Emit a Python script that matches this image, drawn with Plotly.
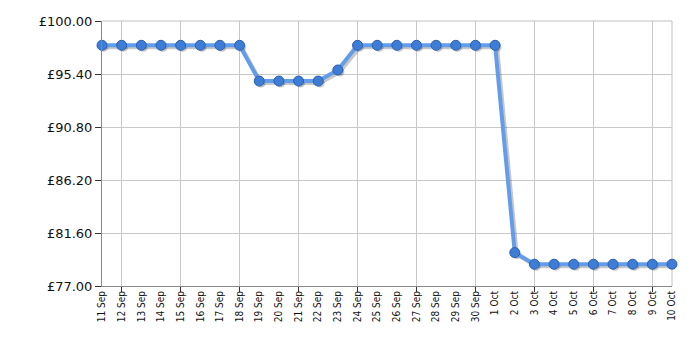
import plotly.graph_objects as go

dates = ["11 Sep", "12 Sep", "13 Sep", "14 Sep", "15 Sep", "16 Sep", "17 Sep", "18 Sep",
         "19 Sep", "20 Sep", "21 Sep", "22 Sep", "23 Sep", "24 Sep", "25 Sep", "26 Sep",
         "27 Sep", "28 Sep", "29 Sep", "30 Sep", "1 Oct", "2 Oct", "3 Oct", "4 Oct",
         "5 Oct", "6 Oct", "7 Oct", "8 Oct", "9 Oct", "10 Oct"]
prices = [97.89, 97.89, 97.89, 97.89, 97.89, 97.89, 97.89, 97.89,
          94.79, 94.79, 94.79, 94.79, 95.75, 97.89, 97.89, 97.89,
          97.89, 97.89, 97.89, 97.89, 97.89, 79.90, 78.89, 78.89,
          78.89, 78.89, 78.89, 78.89, 78.89, 78.89]
y_ticks = [77.0, 81.6, 86.2, 90.8, 95.4, 100.0]

idx = list(range(len(dates)))
font = "DejaVu Sans, Verdana, sans-serif"
xfont = "DejaVu Sans Condensed, DejaVu Sans, sans-serif"

fig = go.Figure()

# base subplot holding the visible axes (no marks of its own)
fig.add_trace(go.Scatter(x=[], y=[], mode="lines", hoverinfo="skip", showlegend=False))

# soft shadow on an overlaid, slightly shifted axis pair
px_per_day = 570 / 29
px_per_gbp = 265 / 23
sx = 2 / px_per_day
sy = 2 / px_per_gbp
fig.add_trace(go.Scatter(
    x=idx, y=prices, mode="lines+markers", xaxis="x2", yaxis="y2",
    line=dict(color="rgba(0,0,0,0.22)", width=4),
    marker=dict(size=9, color="rgba(0,0,0,0.22)"),
    cliponaxis=False, hoverinfo="skip", showlegend=False))

fig.add_trace(go.Scatter(
    x=idx, y=prices, mode="lines+markers", xaxis="x3", yaxis="y3",
    line=dict(color="#639de9", width=4),
    marker=dict(size=10, color="#3d7dd6", line=dict(color="#2b5fae", width=1)),
    cliponaxis=False, showlegend=False))

fig.update_layout(
    width=700, height=350,
    margin=dict(l=102, r=28, t=21, b=64),
    paper_bgcolor="white", plot_bgcolor="white",
    font=dict(family=font, color="#111111"),
    xaxis=dict(
        range=[0, 29], tickmode="array", tickvals=idx, ticktext=dates,
        tickangle=-90, tickfont=dict(size=10, family=xfont), ticks="",
        showgrid=False, zeroline=False,
        showline=True, linecolor="#888888", linewidth=1,
        minor=dict(tick0=1, dtick=3, showgrid=True, gridcolor="#c8c8c8", gridwidth=1,
                   ticks="outside", ticklen=5, tickcolor="#333333"),
    ),
    yaxis=dict(
        range=[77, 100], tickmode="array", tickvals=y_ticks,
        ticktext=["£%.2f" % v for v in y_ticks],
        tickfont=dict(size=13, family=font), ticks="outside", ticklen=6,
        tickcolor="#333333",
        showgrid=True, gridcolor="#c8c8c8", gridwidth=1, zeroline=False,
        showline=True, linecolor="#888888", linewidth=1,
    ),
    xaxis2=dict(range=[0 - sx, 29 - sx], overlaying="x", visible=False),
    yaxis2=dict(range=[77 + sy, 100 + sy], overlaying="y", visible=False),
    xaxis3=dict(range=[0, 29], overlaying="x", visible=False),
    yaxis3=dict(range=[77, 100], overlaying="y", visible=False),
    shapes=[
        dict(type="line", xref="paper", yref="paper", x0=0, x1=1, y0=1, y1=1,
             line=dict(color="#c0c0c0", width=1), layer="below"),
        dict(type="line", xref="paper", yref="paper", x0=1, x1=1, y0=0, y1=1,
             line=dict(color="#c0c0c0", width=1), layer="below"),
    ],
)

fig.write_html("out.html")
